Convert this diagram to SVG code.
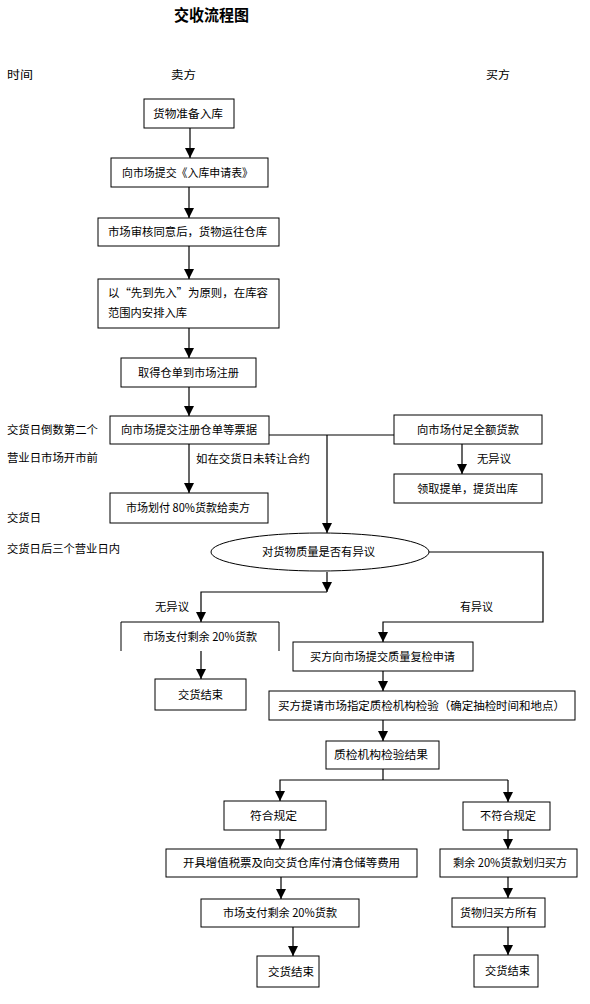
<svg xmlns="http://www.w3.org/2000/svg" width="590" height="1004" viewBox="0 0 590 1004">
<style>
text{font-family:"Noto Sans CJK SC","Liberation Sans",sans-serif;font-size:11.5px;fill:#000}
.t{font-size:16px;font-weight:bold}
rect,ellipse,.ob{fill:#fff;stroke:#000;stroke-width:1}
#connectors path{fill:none;stroke:#000;stroke-width:1.2}
</style>
<defs>
<marker id="ah" markerUnits="userSpaceOnUse" markerWidth="12" markerHeight="10" refX="10" refY="5" orient="auto">
<path d="M0,0 L10,5 L0,10 Z" fill="#000"/>
</marker>
</defs>
<g id="labels">
<text class="t" x="174" y="21" textLength="75" lengthAdjust="spacingAndGlyphs">交收流程图</text>
<text x="7" y="79" textLength="26" lengthAdjust="spacingAndGlyphs">时间</text>
<text x="171" y="79" textLength="25" lengthAdjust="spacingAndGlyphs">卖方</text>
<text x="486" y="79" textLength="24" lengthAdjust="spacingAndGlyphs">买方</text>
<text x="7" y="434" textLength="91" lengthAdjust="spacingAndGlyphs">交货日倒数第二个</text>
<text x="7" y="462" textLength="91" lengthAdjust="spacingAndGlyphs">营业日市场开市前</text>
<text x="7" y="522" textLength="34" lengthAdjust="spacingAndGlyphs">交货日</text>
<text x="7" y="553" textLength="113" lengthAdjust="spacingAndGlyphs">交货日后三个营业日内</text>
<text x="196" y="463" textLength="114" lengthAdjust="spacingAndGlyphs">如在交货日未转让合约</text>
<text x="477" y="463" textLength="34" lengthAdjust="spacingAndGlyphs">无异议</text>
<text x="155" y="611" textLength="34" lengthAdjust="spacingAndGlyphs">无异议</text>
<text x="460" y="611" textLength="33" lengthAdjust="spacingAndGlyphs">有异议</text>
</g>
<g id="connectors">
<path d="M190,128 V158" marker-end="url(#ah)"/>
<path d="M189,187 V218" marker-end="url(#ah)"/>
<path d="M189,246 V279" marker-end="url(#ah)"/>
<path d="M189,328 V358" marker-end="url(#ah)"/>
<path d="M189,387 V416" marker-end="url(#ah)"/>
<path d="M189,444 V493" marker-end="url(#ah)"/>
<path d="M269,435 H394"/>
<path d="M327,435 V533" marker-end="url(#ah)"/>
<path d="M462,444 V474" marker-end="url(#ah)"/>
<path d="M327,572 V592" marker-end="url(#ah)"/>
<path d="M327,592 H201 V622" marker-end="url(#ah)"/>
<path d="M429,552 H543 V622 H383 V642" marker-end="url(#ah)"/>
<path d="M201,651 V679" marker-end="url(#ah)"/>
<path d="M383,671 V691" marker-end="url(#ah)"/>
<path d="M383,720 V741" marker-end="url(#ah)"/>
<path d="M383,769 V780"/>
<path d="M508,780 H280 V801" marker-end="url(#ah)"/>
<path d="M508,780 V802" marker-end="url(#ah)"/>
<path d="M280,830 V849" marker-end="url(#ah)"/>
<path d="M281,877 V899" marker-end="url(#ah)"/>
<path d="M293,927 V956" marker-end="url(#ah)"/>
<path d="M508,830 V849" marker-end="url(#ah)"/>
<path d="M508,877 V898" marker-end="url(#ah)"/>
<path d="M508,927 V955" marker-end="url(#ah)"/>
</g>
<g id="n1"><rect x="144" y="99" width="90" height="29"/><text x="153" y="118" textLength="70" lengthAdjust="spacingAndGlyphs">货物准备入库</text></g>
<g id="n2"><rect x="111" y="158" width="157" height="29"/><text x="122" y="177" textLength="131" lengthAdjust="spacingAndGlyphs">向市场提交《入库申请表》</text></g>
<g id="n3"><rect x="98" y="218" width="181" height="28"/><text x="108" y="236" textLength="159" lengthAdjust="spacingAndGlyphs">市场审核同意后，货物运往仓库</text></g>
<g id="n4"><rect x="98" y="279" width="181" height="49"/><text x="108" y="297" textLength="160" lengthAdjust="spacingAndGlyphs">以“先到先入”为原则，在库容</text><text x="108" y="317" textLength="79" lengthAdjust="spacingAndGlyphs">范围内安排入库</text></g>
<g id="n5"><rect x="121" y="358" width="135" height="29"/><text x="138" y="377" textLength="101" lengthAdjust="spacingAndGlyphs">取得仓单到市场注册</text></g>
<g id="n6"><rect x="110" y="416" width="159" height="28"/><text x="121" y="434" textLength="136" lengthAdjust="spacingAndGlyphs">向市场提交注册仓单等票据</text></g>
<g id="n7"><rect x="110" y="493" width="158" height="30"/><text x="126" y="512" textLength="124" lengthAdjust="spacingAndGlyphs">市场划付 80%货款给卖方</text></g>
<g id="n8"><rect x="394" y="415" width="148" height="29"/><text x="417" y="434" textLength="102" lengthAdjust="spacingAndGlyphs">向市场付足全额货款</text></g>
<g id="n9"><rect x="394" y="474" width="148" height="29"/><text x="417" y="493" textLength="101" lengthAdjust="spacingAndGlyphs">领取提单，提货出库</text></g>
<g id="n10"><ellipse cx="320" cy="552" rx="109" ry="19"/><text x="262" y="556" textLength="113" lengthAdjust="spacingAndGlyphs">对货物质量是否有异议</text></g>
<g id="n11"><path class="ob" d="M121,651 V622 H279 V651"/><text x="143" y="641" textLength="114" lengthAdjust="spacingAndGlyphs">市场支付剩余 20%货款</text></g>
<g id="n12"><rect x="155" y="679" width="91" height="31"/><text x="178" y="699" textLength="45" lengthAdjust="spacingAndGlyphs">交货结束</text></g>
<g id="n13"><rect x="293" y="642" width="180" height="29"/><text x="310" y="661" textLength="145" lengthAdjust="spacingAndGlyphs">买方向市场提交质量复检申请</text></g>
<g id="n14"><rect x="269" y="691" width="306" height="29"/><text x="278" y="710" textLength="287" lengthAdjust="spacingAndGlyphs">买方提请市场指定质检机构检验（确定抽检时间和地点）</text></g>
<g id="n15"><rect x="326" y="741" width="113" height="28"/><text x="334" y="759" textLength="94" lengthAdjust="spacingAndGlyphs">质检机构检验结果</text></g>
<g id="n16"><rect x="224" y="801" width="102" height="29"/><text x="250" y="820" textLength="47" lengthAdjust="spacingAndGlyphs">符合规定</text></g>
<g id="n17"><rect x="166" y="849" width="251" height="28"/><text x="183" y="867" textLength="217" lengthAdjust="spacingAndGlyphs">开具增值税票及向交货仓库付清仓储等费用</text></g>
<g id="n18"><rect x="201" y="899" width="158" height="28"/><text x="223" y="917" textLength="114" lengthAdjust="spacingAndGlyphs">市场支付剩余 20%货款</text></g>
<g id="n19"><rect x="257" y="956" width="62" height="31"/><text x="268" y="976" textLength="46" lengthAdjust="spacingAndGlyphs">交货结束</text></g>
<g id="n20"><rect x="463" y="802" width="87" height="28"/><text x="480" y="820" textLength="56" lengthAdjust="spacingAndGlyphs">不符合规定</text></g>
<g id="n21"><rect x="440" y="849" width="137" height="28"/><text x="453" y="867" textLength="114" lengthAdjust="spacingAndGlyphs">剩余 20%货款划归买方</text></g>
<g id="n22"><rect x="452" y="898" width="93" height="29"/><text x="460" y="917" textLength="77" lengthAdjust="spacingAndGlyphs">货物归买方所有</text></g>
<g id="n23"><rect x="474" y="955" width="64" height="32"/><text x="485" y="975" textLength="45" lengthAdjust="spacingAndGlyphs">交货结束</text></g>
</svg>
